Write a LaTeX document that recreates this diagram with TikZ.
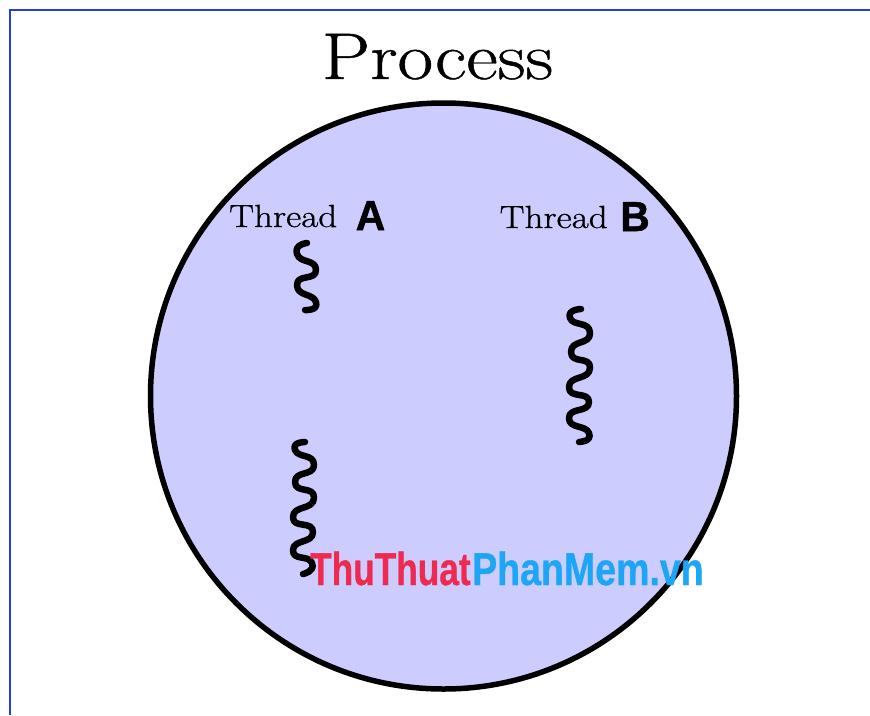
\documentclass[tikz,border=0pt]{standalone}
\usepackage{fontspec}
\newfontfamily\labelfont{Liberation Sans}[BoldFeatures={FakeBold=1.2}]
\newfontfamily\markfont{Liberation Sans}[BoldFeatures={FakeBold=0.8}]
\newfontfamily\romanfont{Latin Modern Roman}[FakeBold=0.7]
\definecolor{procfill}{HTML}{CCCCFF}
\definecolor{framecol}{HTML}{2040E0}
\definecolor{markred}{HTML}{EE2A50}
\definecolor{markblue}{HTML}{1CA6F5}
\begin{document}
\begin{tikzpicture}[x=1pt,y=-1pt]
\tikzstyle{thread}=[line width=6.5pt, line cap=round, line join=round]
\tikzstyle{threadtext}=[inner sep=0pt, anchor=base west, xscale=1.16, font=\romanfont\fontsize{32}{36}\selectfont]
\tikzstyle{threadletter}=[inner sep=0pt, anchor=base, xscale=0.97, font=\labelfont\bfseries\fontsize{42}{44}\selectfont]
\tikzstyle{marktext}=[inner sep=0pt, anchor=base west, font=\markfont\bfseries\fontsize{46}{50}\selectfont]

\useasboundingbox (0,0) rectangle (870,715);
\fill[white] (0,0) rectangle (870,715);
\draw[framecol, line width=2pt] (10,715) -- (10,10) -- (870,10);

\draw[procfill, fill=procfill] (443.5,396) circle (293);
\draw[line width=5.5pt] (443.5,396) circle (293);

\node[inner sep=0pt, anchor=base, xscale=1.17, font=\romanfont\fontsize{66}{70}\selectfont] (title) at (437.5,79) {Process};

\node[threadtext] (labelA) at (229,227) {Thread};
\node[threadletter] (letterA) at (370.5,230) {A};
\node[threadtext] (labelB) at (499.5,228) {Thread};
\node[threadletter] (letterB) at (635,231) {B};

\draw[thread] plot[smooth, tension=1.3] coordinates {(307,243) (297,254) (316,270) (297,285) (316,302) (305,310)};
\draw[thread] plot[smooth, tension=1.3] coordinates {(305,442) (295,450) (314,465) (295,482) (314,498) (293,517) (313,532) (293,550) (312,563) (303,574)};
\draw[thread] plot[smooth, tension=1.3] coordinates {(581,309) (570,318) (590,333) (571,352) (590,368) (569,387) (589,402) (569,418) (589,433) (579,442)};

\node[marktext, xscale=0.766, text=markred] (markleft) at (310,585) {ThuThuat};
\node[marktext, xscale=0.816, text=markblue] (markright) at (472,585) {PhanMem.vn};
\end{tikzpicture}
\end{document}
